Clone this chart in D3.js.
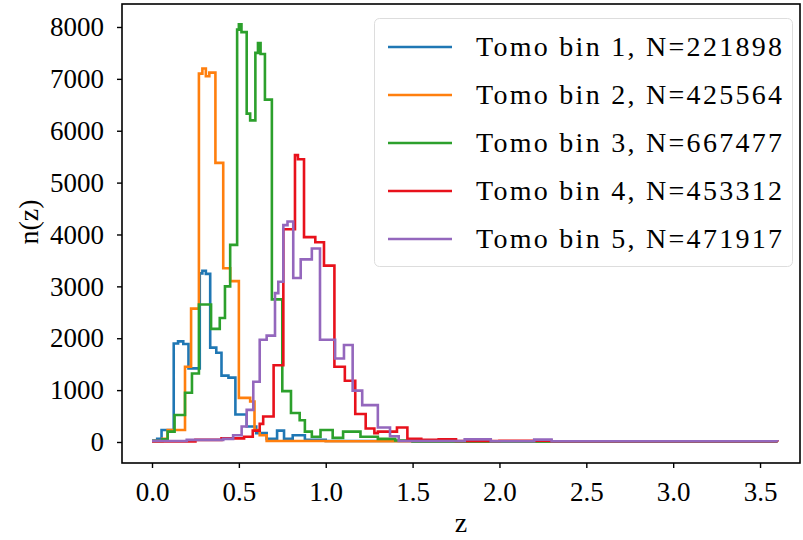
<!DOCTYPE html>
<html>
<head>
<meta charset="utf-8">
<script src="https://cdn.jsdelivr.net/npm/d3@7"></script>
<style>
  html, body { margin: 0; padding: 0; background: #fff; }
  svg { display: block; }
  text { font-family: "Liberation Serif", "Times New Roman", serif; fill: #000; }
</style>
</head>
<body>
<svg id="chart" width="803" height="540"></svg>
<script>
// ---- data (step histograms: [z at left edge of step, n(z)]) ----
const seriesNames = ["Tomo bin 1, N=221898", "Tomo bin 2, N=425564", "Tomo bin 3, N=667477", "Tomo bin 4, N=453312", "Tomo bin 5, N=471917"];
const seriesColors = ["#1f77b4", "#ff7f0e", "#2ca02c", "#e8111b", "#9467bd"];

const bin1 = [[0,30],[0.03,60],[0.055,230],[0.125,1900],[0.15,1940],[0.18,1890],[0.21,1420],[0.275,3250],[0.29,3300],[0.31,3240],[0.335,1820],[0.37,1720],[0.40,1280],[0.44,1240],[0.48,530],[0.545,300],[0.60,170],[0.66,60],[0.72,220],[0.76,60],[0.81,130],[0.88,40],[1.0,20],[1.5,10],[3.6,10]];
const bin2 = [[0,20],[0.06,60],[0.09,230],[0.19,1450],[0.225,2570],[0.27,7100],[0.29,7200],[0.31,7050],[0.33,7120],[0.365,5380],[0.41,3350],[0.45,3100],[0.50,850],[0.565,780],[0.59,230],[0.62,130],[0.66,20],[1.0,15],[3.6,10]];
const bin3 = [[0,20],[0.06,50],[0.09,200],[0.13,520],[0.19,950],[0.23,1320],[0.27,2650],[0.34,2180],[0.39,2390],[0.42,3000],[0.45,3800],[0.49,7950],[0.50,8050],[0.515,7900],[0.545,6330],[0.565,6200],[0.595,7500],[0.61,7690],[0.625,7480],[0.65,6600],[0.69,2750],[0.75,980],[0.80,560],[0.85,420],[0.88,200],[0.92,100],[0.97,230],[1.04,80],[1.10,200],[1.20,100],[1.30,60],[1.40,30],[1.5,10],[3.6,10]];
const bin4 = [[0,10],[0.25,40],[0.40,70],[0.53,100],[0.58,220],[0.62,350],[0.64,490],[0.70,1480],[0.756,4100],[0.823,5530],[0.84,5450],[0.875,3950],[0.94,3850],[0.99,3400],[1.05,1450],[1.11,1180],[1.17,540],[1.23,260],[1.28,170],[1.30,200],[1.41,280],[1.47,60],[1.55,40],[1.65,50],[1.75,20],[2.0,25],[2.3,15],[3.6,10]];
const bin5 = [[0,20],[0.2,40],[0.41,60],[0.467,130],[0.516,300],[0.545,620],[0.583,1160],[0.62,1970],[0.66,2050],[0.708,2870],[0.727,3090],[0.756,4180],[0.78,4250],[0.813,3160],[0.856,3520],[0.92,3730],[0.967,1970],[1.054,1610],[1.105,1870],[1.155,990],[1.21,710],[1.30,280],[1.37,110],[1.42,20],[1.80,50],[1.95,15],[2.2,45],[2.3,15],[3.6,10]];
const allSeries = [bin1, bin2, bin3, bin4, bin5];

const xTicks = [0.0, 0.5, 1.0, 1.5, 2.0, 2.5, 3.0, 3.5];
const yTicks = [0, 1000, 2000, 3000, 4000, 5000, 6000, 7000, 8000];
const xLabel = "z";
const yLabel = "n(z)";

// ---- layout ----
const L = 122, R = 800, T = 4, B = 463;
const svg = d3.select("#chart");

const x = d3.scaleLinear().domain([-0.1727, 3.730]).range([L, R]);
const y = d3.scaleLinear().domain([-405, 8443]).range([B, T]);

svg.append("defs").append("clipPath").attr("id", "clip")
  .append("rect").attr("x", L).attr("y", T).attr("width", R - L).attr("height", B - T);

// lines
const line = d3.line().x(d => x(d[0])).y(d => y(d[1])).curve(d3.curveStepAfter);
const g = svg.append("g").attr("clip-path", "url(#clip)");
allSeries.forEach((s, i) => {
  g.append("path").datum(s)
    .attr("d", line)
    .attr("fill", "none")
    .attr("stroke", seriesColors[i])
    .attr("stroke-width", 2.6)
    .attr("stroke-linejoin", "miter");
});

// axes
const xAxis = svg.append("g").attr("transform", `translate(0,${B})`)
  .call(d3.axisBottom(x).tickValues(xTicks).tickFormat(d3.format(".1f")).tickSize(5).tickPadding(14));
const yAxis = svg.append("g").attr("transform", `translate(${L},0)`)
  .call(d3.axisLeft(y).tickValues(yTicks).tickFormat(d3.format("d")).tickSize(5).tickPadding(13));
[xAxis, yAxis].forEach(a => {
  a.select(".domain").remove();
  a.selectAll(".tick line").attr("stroke", "#000").attr("stroke-width", 1.4);
  a.selectAll(".tick text").style("font-family", "Liberation Serif, serif").style("font-size", "27px").attr("fill", "#000");
});

// frame
svg.append("rect").attr("x", L).attr("y", T).attr("width", R - L).attr("height", B - T)
  .attr("fill", "none").attr("stroke", "#000").attr("stroke-width", 1.6);

// axis labels
svg.append("text").attr("x", (L + R) / 2).attr("y", 532).attr("text-anchor", "middle")
  .style("font-size", "28px").text(xLabel);
svg.append("text").attr("transform", "translate(38,222) rotate(-90)").attr("text-anchor", "middle")
  .style("font-size", "28px").text(yLabel);

// legend
const lg = svg.append("g");
lg.append("rect").attr("x", 374.5).attr("y", 18.5).attr("width", 418).attr("height", 248).attr("rx", 5)
  .attr("fill", "#fff").attr("fill-opacity", 0.8).attr("stroke", "#ddd").attr("stroke-width", 1);
seriesNames.forEach((name, i) => {
  const yy = 47 + i * 48;
  lg.append("line").attr("x1", 388).attr("x2", 452).attr("y1", yy).attr("y2", yy)
    .attr("stroke", seriesColors[i]).attr("stroke-width", 2.6);
  lg.append("text").attr("x", 476).attr("y", yy).attr("dy", "0.33em")
    .style("font-size", "28px").attr("textLength", 306).attr("lengthAdjust", "spacing").text(name);
});
</script>
</body>
</html>
